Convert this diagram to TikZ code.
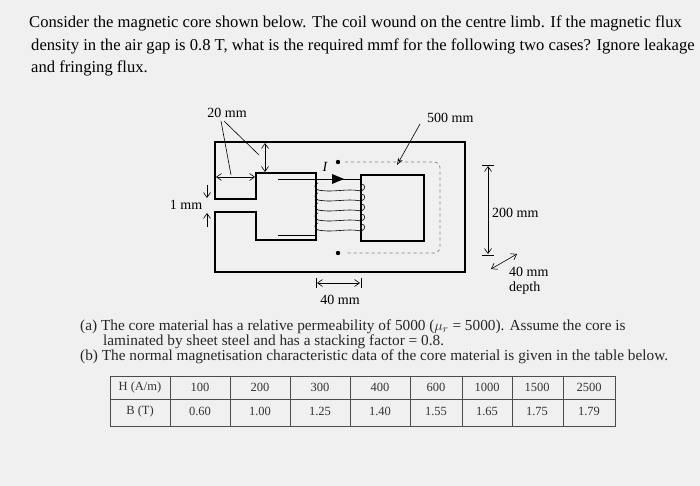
\documentclass[tikz,border=0pt]{standalone}
\usepackage{fontspec}
\setmainfont{Liberation Serif}
\usetikzlibrary{arrows.meta}
\begin{document}
\begin{tikzpicture}[x=1pt,y=-1pt,
  qtext/.style={anchor=west,inner sep=0pt,font=\fontsize{16.6}{18}\selectfont},
  ptext/.style={anchor=west,inner sep=0pt,font=\fontsize{15.3}{16}\selectfont,text=black!85},
  lab/.style={inner sep=0pt,font=\fontsize{14}{15}\selectfont},
  cell/.style={inner sep=0pt,font=\fontsize{12.5}{13}\selectfont,text=black!80},
  dim/.style={{Straight Barb[length=5pt,width=7pt]}-{Straight Barb[length=5pt,width=7pt]},line width=0.6pt},
  core/.style={line width=1.2pt},
  lead/.style={line width=0.6pt}]
\fill[black!6] (0,0) rectangle (700,486);
\useasboundingbox (0,0) rectangle (700,486);
% question
\node[qtext] (q1) at (29,23) {Consider the magnetic core shown below. The coil wound on the centre limb. If the magnetic flux};
\node[qtext] (q2) at (31,46) {density in the air gap is 0.8 T, what is the required mmf for the following two cases? Ignore leakage};
\node[qtext] (q3) at (31,68) {and fringing flux.};
% core
\draw[core] (256,199) -- (215,199) -- (215,142) -- (465,142) -- (465,272) -- (215,272) -- (215,212) -- (256,212) -- (256,240) -- (316,240) -- (316,173) -- (256,173) -- cycle;
\draw[core] (361,175) rectangle (424,241);
% coil
\draw[line width=0.7pt] (278,179) -- (361,179);
\draw[line width=0.7pt] (278,235) -- (316,235);
\fill (344,179) -- (332,174) -- (332,184) -- cycle;
\node[lab,font=\itshape\fontsize{14}{15}\selectfont] (I) at (325,167) {I};
\foreach \y in {187,197,207,217,227}{
  \draw[line width=0.6pt] (318,\y+3) .. controls (314,\y+2) and (314,\y-4) .. (318,\y-4);
  \draw[line width=0.6pt] (318,\y+3) .. controls (335,\y+6) and (345,\y+1) .. (361,\y+4);
  \draw[line width=0.6pt] (361,\y+4) .. controls (366,\y+3) and (366,\y-3) .. (361,\y-3);
}
% flux path
\coordinate (d1) at (338,162);
\coordinate (d2) at (338,253);
\fill (d1) circle (2.2);
\fill (d2) circle (2.2);
\draw[gray,dashed,line width=0.7pt,rounded corners=6pt] (345,162) -- (440,162) -- (440,253) -- (345,253);
% 500 mm
\node[lab,anchor=west] (l500) at (427,118) {500 mm};
\coordinate (p500) at (397,165);
\draw[lead,-{Stealth[open,length=7pt,width=5pt]}] (420,124) -- (p500);
% 20 mm
\node[lab] (l20) at (227,113) {20 mm};
\draw[lead] (221,121) -- (231,175);
\draw[lead] (224,121) -- (259,155);
\draw[dim] (216,177) -- (255,177);
\draw[dim] (265,143) -- (265,172);
% 1 mm
\node[lab] (l1) at (186,205) {1 mm};
\draw[lead,-{Straight Barb[length=5pt,width=7pt]}] (207,185) -- (207,198);
\draw[lead,-{Straight Barb[length=5pt,width=7pt]}] (207,227) -- (207,213);
% 200 mm
\draw[dim] (488,166) -- (488,254);
\draw[lead] (482,165) -- (494,165);
\draw[lead] (482,255) -- (494,255);
\node[lab,anchor=west] (l200) at (492,213) {200 mm};
% depth
\draw[dim] (491,269) -- (517,254);
\node[lab,anchor=west] (ld1) at (509,272) {40 mm};
\node[lab,anchor=west] (ld2) at (509,288) {depth};
% 40 mm
\draw[dim] (317,283) -- (360,283);
\draw[lead] (316,278) -- (316,288);
\draw[lead] (361,278) -- (361,288);
\node[lab] (l40) at (340,300) {40 mm};
% parts
\node[ptext] (pa) at (80,327) {(a) The core material has a relative permeability of 5000 ($\mu_r$ = 5000). Assume the core is};
\node[ptext] (pa2) at (103,342) {laminated by sheet steel and has a stacking factor = 0.8.};
\node[ptext] (pb) at (80,357) {(b) The normal magnetisation characteristic data of the core material is given in the table below.};
% table
\draw[black!70,line width=0.8pt] (110,376) rectangle (615,426);
\draw[black!70,line width=0.8pt] (110,399) -- (615,399);
\foreach \x in {170,230,290,350,410,462,512,563}
  \draw[black!70,line width=0.8pt] (\x,376) -- (\x,426);
\foreach \x/\h/\b [count=\i] in {140/{H (A/m)}/{B (T)},200/100/0.60,260/200/1.00,320/300/1.25,380/400/1.40,436/600/1.55,487/1000/1.65,537/1500/1.75,589/2500/1.79}{
  \node[cell] (h\i) at (\x,387) {\h};
  \node[cell] (b\i) at (\x,411) {\b};
}
\end{tikzpicture}
\end{document}
